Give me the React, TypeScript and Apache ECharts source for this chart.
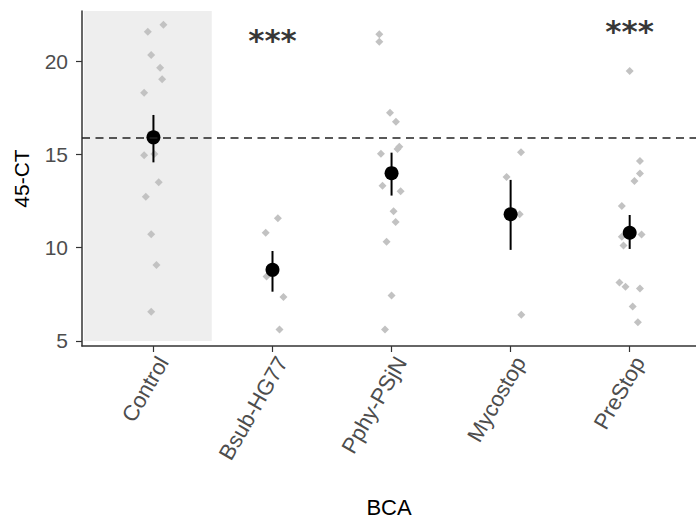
import React, { useEffect, useRef } from "react";
import * as echarts from "echarts";

const categories = ["Control", "Bsub-HG77", "Pphy-PSjN", "Mycostop", "PreStop"];

const controlValues = [21.94, 21.57, 20.32, 19.64, 19.02, 18.3, 14.95, 15.02, 13.51, 12.73, 10.72, 9.07, 6.57];
const controlJitter = [0.084, -0.047, -0.019, 0.056, 0.073, -0.078, -0.078, 0.008, 0.044, -0.064, -0.019, 0.025, -0.019];
const bsubValues = [11.57, 10.8, 8.45, 7.36, 5.61];
const bsubJitter = [0.045, -0.057, -0.05, 0.092, 0.059];
const pphyValues = [21.43, 21.03, 17.23, 16.75, 15.41, 15.29, 15.03, 13.32, 13.02, 11.95, 11.38, 10.32, 7.43, 5.61];
const pphyJitter = [-0.103, -0.103, -0.013, 0.037, 0.065, 0.05, -0.089, -0.076, 0.076, 0.017, 0.034, -0.042, 0.0, -0.055];
const mycoValues = [15.11, 13.79, 11.79, 6.4];
const mycoJitter = [0.087, -0.034, 0.076, 0.09];
const prestopValues = [19.46, 14.64, 13.97, 13.57, 12.23, 10.71, 10.59, 10.12, 8.13, 7.91, 7.81, 6.85, 6.0];
const prestopJitter = [0.0, 0.086, 0.086, 0.04, -0.066, 0.1, -0.066, -0.052, -0.086, -0.035, 0.086, 0.025, 0.069];

// group means with error bar limits
const means = [15.91, 8.81, 13.99, 11.79, 10.8];
const errLow = [14.57, 7.64, 12.79, 9.88, 9.93];
const errHigh = [17.11, 9.82, 15.09, 13.63, 11.75];

// control reference line
const referenceValue = 15.9;

// significance marks: category index (1-based), y position
const sigCategory = [2, 5];
const sigY = [21.29, 21.77];
const sigText = ["***", "***"];

const yTicks = [5, 10, 15, 20];
const Y_MIN = 4.73;
const Y_MAX = 22.68;
const X_MIN = 0.4;
const X_MAX = 5.557;
// shaded control band
const bandX = [0.415, 1.49];
const bandY = [5, 22.68];

const FONT = "'Liberation Sans', Arial, sans-serif";

export default function App() {
  const ref = useRef<HTMLDivElement>(null);

  useEffect(() => {
    if (!ref.current) return;
    const chart = echarts.init(ref.current, undefined, { renderer: "svg" });

    const groups = [
      [controlValues, controlJitter],
      [bsubValues, bsubJitter],
      [pphyValues, pphyJitter],
      [mycoValues, mycoJitter],
      [prestopValues, prestopJitter],
    ] as number[][][];
    const pointData: number[][] = [];
    groups.forEach(([vals, jit], i) => {
      vals.forEach((v, k) => pointData.push([i + 1 + jit[k], v]));
    });
    const meanData = means.map((m, i) => [i + 1, m]);
    const errData = means.map((_, i) => [i + 1, errLow[i], errHigh[i]]);
    const sigData = sigCategory.map((c, i) => [c, sigY[i]]);

    chart.setOption({
      animation: false,
      grid: { left: 82, right: 0, top: 11, bottom: 177, containLabel: false },
      xAxis: {
        type: "value",
        min: X_MIN,
        max: X_MAX,
        name: "BCA",
        nameLocation: "middle",
        nameGap: 150,
        nameTextStyle: { fontFamily: FONT, fontSize: 22, color: "#000" },
        splitLine: { show: false },
        axisLine: { show: true, onZero: false, lineStyle: { color: "#333", width: 1.5 } },
        axisTick: {
          show: true,
          length: 6,
          customValues: [1, 2, 3, 4, 5],
          lineStyle: { color: "#333", width: 1.2 },
        },
        axisLabel: {
          customValues: [1, 2, 3, 4, 5],
          rotate: 60,
          align: "right",
          verticalAlign: "top",
          margin: 7,
          fontFamily: FONT,
          fontSize: 22,
          color: "#4d4d4d",
          formatter: (v: number) => categories[Math.round(v) - 1] ?? "",
        },
      },
      yAxis: {
        type: "value",
        min: Y_MIN,
        max: Y_MAX,
        name: "45-CT",
        nameLocation: "middle",
        nameRotate: 90,
        nameGap: 50,
        nameTextStyle: { fontFamily: FONT, fontSize: 21, color: "#000" },
        splitLine: { show: false },
        axisLine: { show: true, onZero: false, lineStyle: { color: "#333", width: 1.5 } },
        axisTick: { show: true, length: 6, customValues: yTicks, lineStyle: { color: "#333", width: 1.2 } },
        axisLabel: {
          customValues: yTicks,
          margin: 14,
          fontFamily: FONT,
          fontSize: 21,
          color: "#4d4d4d",
        },
      },
      series: [
        {
          type: "scatter",
          name: "band",
          data: [],
          silent: true,
          markArea: {
            silent: true,
            itemStyle: { color: "#eeeeee" },
            data: [[{ coord: [bandX[0], bandY[0]] }, { coord: [bandX[1], bandY[1]] }]],
          },
          markLine: {
            silent: true,
            symbol: "none",
            label: { show: false },
            lineStyle: { color: "#222", width: 1.5, type: [8, 5.5] },
            data: [{ yAxis: referenceValue }],
          },
          z: 1,
        },
        {
          type: "scatter",
          name: "obs",
          data: pointData,
          symbol: "diamond",
          symbolSize: [8, 8],
          itemStyle: { color: "#c2c2c2", opacity: 1 },
          z: 2,
        },
        {
          type: "custom",
          name: "err",
          data: errData,
          renderItem: (_params: any, api: any) => {
            const x = api.value(0);
            const p1 = api.coord([x, api.value(1)]);
            const p2 = api.coord([x, api.value(2)]);
            return {
              type: "line",
              shape: { x1: p1[0], y1: p1[1], x2: p2[0], y2: p2[1] },
              style: { stroke: "#000", lineWidth: 2 },
            };
          },
          z: 3,
        },
        {
          type: "scatter",
          name: "mean",
          data: meanData,
          symbol: "circle",
          symbolSize: 14,
          itemStyle: { color: "#000", opacity: 1 },
          z: 4,
        },
        {
          type: "scatter",
          name: "sig",
          data: sigData,
          symbolSize: 0,
          itemStyle: { color: "transparent" },
          label: {
            show: true,
            position: "inside",
            formatter: (p: any) => sigText[p.dataIndex],
            fontFamily: "'DejaVu Sans', sans-serif",
            fontWeight: "bold",
            fontSize: 31,
            color: "#000",
            offset: [0, 3],
          },
          z: 5,
        },
      ],
    });

    return () => chart.dispose();
  }, []);

  return (
    <div
      ref={ref}
      style={{ position: "fixed", left: 0, top: 0, width: 696, height: 523, background: "#fff" }}
    />
  );
}
